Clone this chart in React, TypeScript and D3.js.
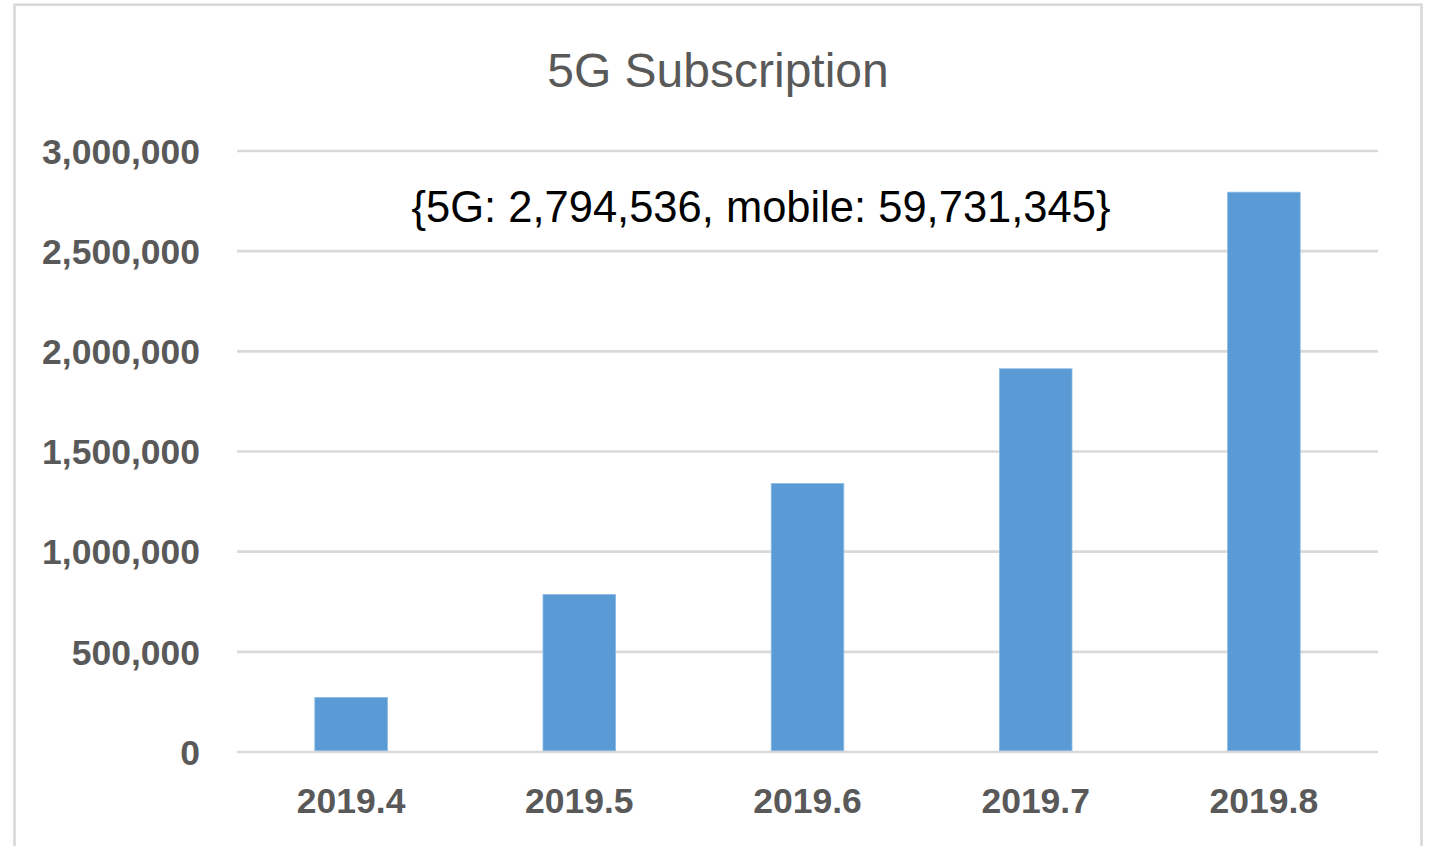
import React from "react";
import * as d3 from "d3";

const categories = ["2019.4", "2019.5", "2019.6", "2019.7", "2019.8"];
const subscriptions = [272000, 786000, 1340000, 1913000, 2794536];
const yTicks = [0, 500000, 1000000, 1500000, 2000000, 2500000, 3000000];
const titleText = "5G Subscription";
const annotationText = "{5G: 2,794,536, mobile: 59,731,345}";

const W = 1430;
const H = 846;
const plot = { left: 237, right: 1378, top: 151, bottom: 752 };
const FONT = "'Liberation Sans', Arial, sans-serif";

export default function App() {
  const x = d3
    .scaleBand<string>()
    .domain(categories)
    .range([plot.left, plot.right])
    .paddingInner(0.682)
    .paddingOuter(0.341);
  const y = d3.scaleLinear().domain([0, 3000000]).range([plot.bottom, plot.top]);
  const fmt = d3.format(",");

  return (
    <svg
      width={W}
      height={H}
      style={{ position: "absolute", left: 0, top: 0, background: "#fff" }}
    >
      <rect x={14.5} y={4.7} width={1407} height={860} fill="#fff" stroke="#d9d9d9" strokeWidth={2.6} />
      <text x={718} y={87} textAnchor="middle" fontFamily={FONT} fontSize={48} fill="#595959">
        {titleText}
      </text>
      {yTicks.map((t) => (
        <g key={t}>
          <line x1={plot.left} x2={plot.right} y1={y(t)} y2={y(t)} stroke="#d9d9d9" strokeWidth={2.6} />
          <text
            x={200}
            y={y(t)}
            dy="0.36em"
            textAnchor="end"
            fontFamily={FONT}
            fontWeight="bold"
            fontSize={35.5}
            fill="#595959"
          >
            {fmt(t)}
          </text>
        </g>
      ))}
      {categories.map((c, i) => (
        <g key={c}>
          <rect
            x={x(c)}
            y={y(subscriptions[i])}
            width={x.bandwidth()}
            height={y(0) - y(subscriptions[i]) - 1.3}
            fill="#5b9bd5"
            stroke="#8ab9e3"
            strokeWidth={0.8}
          />
          <text
            x={(x(c) as number) + x.bandwidth() / 2}
            y={813}
            textAnchor="middle"
            fontFamily={FONT}
            fontWeight="bold"
            fontSize={35.5}
            fill="#595959"
          >
            {c}
          </text>
        </g>
      ))}
      <text x={761} y={222} textAnchor="middle" fontFamily={FONT} fontSize={43.5} fill="#000">
        {annotationText}
      </text>
    </svg>
  );
}
